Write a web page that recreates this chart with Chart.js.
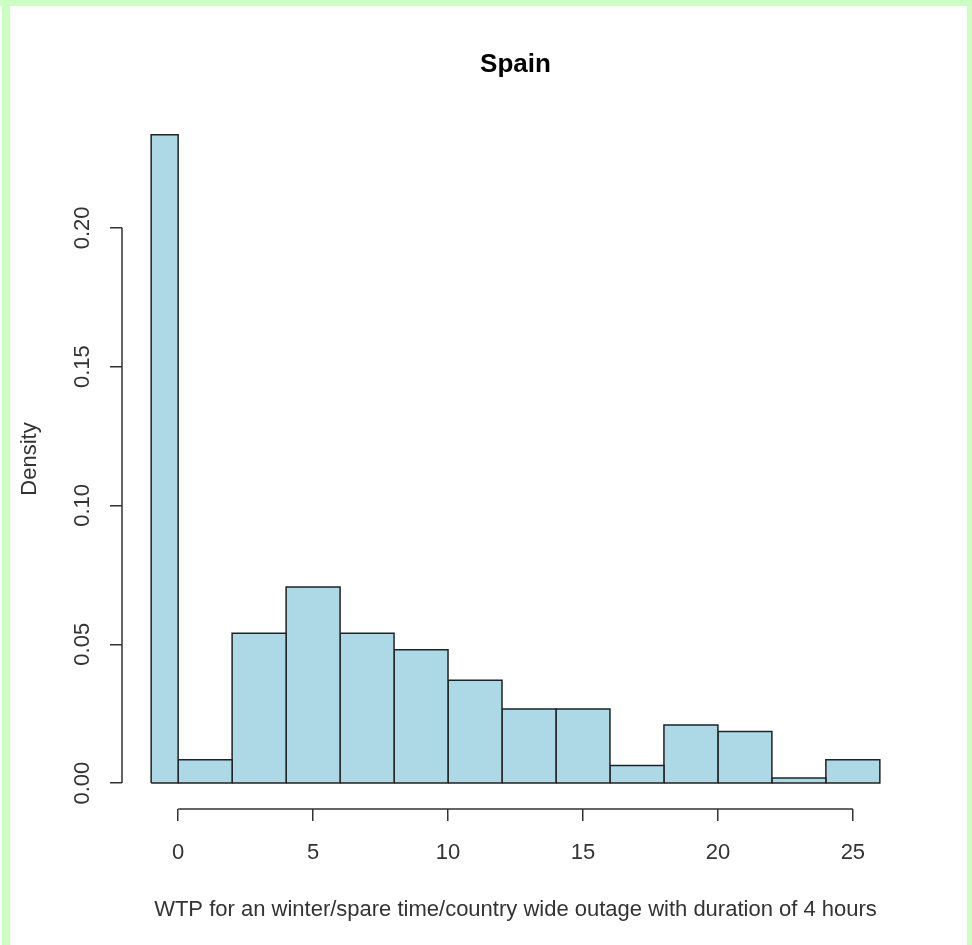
<!DOCTYPE html>
<html><head><meta charset="utf-8">
<script src="https://cdn.jsdelivr.net/npm/chart.js@4.4.1/dist/chart.umd.min.js"></script>
<style>
html,body{margin:0;padding:0;background:#fff;}
#wrap{position:relative;width:972px;height:945px;overflow:hidden;background:#fff;}
canvas{position:absolute;left:0;top:0;}
.g{position:absolute;background:#ccffc2;}
</style></head><body>
<div id="wrap">
<canvas id="c" width="972" height="945"></canvas>
<div class="g" style="left:2px;top:0;width:8px;height:945px"></div>
<div class="g" style="left:0;top:0;width:972px;height:6px"></div>
<div class="g" style="left:967px;top:0;width:5px;height:945px"></div>
</div>
<script>
// ---- data ----
const binEdges = [-1, 0, 2, 4, 6, 8, 10, 12, 14, 16, 18, 20, 22, 24, 26];
const density = [0.2335, 0.0084, 0.054, 0.0706, 0.054, 0.048, 0.037, 0.0267, 0.0267, 0.0063, 0.0209, 0.0186, 0.0018, 0.0084];
const xTickValues = [0, 5, 10, 15, 20, 25];
const xTickLabels = ['0', '5', '10', '15', '20', '25'];
const yTickValues = [0, 0.05, 0.10, 0.15, 0.20];
const yTickLabels = ['0.00', '0.05', '0.10', '0.15', '0.20'];
const xRange = [-2.08, 27.08];
const yRange = [-0.00934, 0.2428];
const chartTitle = 'Spain';
const xTitle = 'WTP for an winter/spare time/country wide outage with duration of 4 hours';
const yTitle = 'Density';

// ---- style ----
const FAMILY = '"Liberation Sans", Arial, Helvetica, sans-serif';
const barFill = '#add8e6';
const barEdge = '#222';
const axisColor = '#333';
const labelColor = '#333';

const datasets = density.map((d, i) => ({
  data: [
    {x: binEdges[i], y: 0},
    {x: binEdges[i], y: d},
    {x: binEdges[i + 1], y: d},
    {x: binEdges[i + 1], y: 0},
    {x: binEdges[i], y: 0}
  ],
  showLine: true,
  fill: 'shape',
  backgroundColor: barFill,
  borderColor: barEdge,
  borderWidth: 1.5,
  borderJoinStyle: 'miter',
  pointRadius: 0,
  pointHoverRadius: 0,
  tension: 0
}));

const rAxes = {
  id: 'rAxes',
  afterDraw(chart) {
    const {ctx, chartArea, scales: {x, y}} = chart;
    ctx.save();
    ctx.strokeStyle = axisColor;
    ctx.lineWidth = 1.5;
    ctx.beginPath();
    const by = chartArea.bottom;
    ctx.moveTo(x.getPixelForValue(xTickValues[0]), by);
    ctx.lineTo(x.getPixelForValue(xTickValues[xTickValues.length - 1]), by);
    const lx = chartArea.left;
    ctx.moveTo(lx, y.getPixelForValue(yTickValues[0]));
    ctx.lineTo(lx, y.getPixelForValue(yTickValues[yTickValues.length - 1]));
    ctx.stroke();
    ctx.fillStyle = labelColor;
    ctx.font = '22px ' + FAMILY;
    ctx.textAlign = 'center';
    ctx.textBaseline = 'middle';
    yTickValues.forEach((v, i) => {
      const py = y.getPixelForValue(v);
      ctx.save();
      ctx.translate(chartArea.left - 39, py);
      ctx.rotate(-Math.PI / 2);
      ctx.fillText(yTickLabels[i], 0, 0);
      ctx.restore();
    });
    ctx.restore();
  }
};

new Chart(document.getElementById('c'), {
  type: 'scatter',
  data: {datasets},
  plugins: [rAxes],
  options: {
    responsive: false,
    animation: false,
    devicePixelRatio: 1,
    events: [],
    layout: {padding: {left: 0, right: 63, top: 0, bottom: 0}},
    plugins: {
      legend: {display: false},
      tooltip: {enabled: false},
      filler: {propagate: false},
      title: {
        display: true, text: chartTitle, fullSize: false, color: '#000',
        font: {family: FAMILY, size: 26, weight: 'bold', lineHeight: 1.2},
        padding: {top: 49.4, bottom: 28.4}
      }
    },
    scales: {
      x: {
        type: 'linear', min: xRange[0], max: xRange[1],
        afterBuildTicks: s => { s.ticks = xTickValues.map(v => ({value: v})); },
        afterFit: s => { s.height = 136; },
        ticks: {
          color: labelColor, font: {family: FAMILY, size: 22}, padding: 19,
          autoSkip: false, maxRotation: 0, minRotation: 0,
          callback: (v) => { const k = xTickValues.indexOf(v); return k >= 0 ? xTickLabels[k] : ''; }
        },
        grid: {drawOnChartArea: false, drawTicks: true, tickLength: 12, color: axisColor, lineWidth: 1.5},
        border: {display: false},
        title: {display: true, text: xTitle, color: labelColor, font: {family: FAMILY, size: 22}, padding: {top: 0, bottom: 22}}
      },
      y: {
        type: 'linear', min: yRange[0], max: yRange[1],
        afterBuildTicks: s => { s.ticks = yTickValues.map(v => ({value: v})); },
        afterFit: s => { s.width = 122; },
        ticks: {display: false},
        grid: {drawOnChartArea: false, drawTicks: true, tickLength: 12, color: axisColor, lineWidth: 1.5},
        border: {display: false},
        title: {display: true, text: yTitle, color: labelColor, font: {family: FAMILY, size: 22}, padding: {top: 17, bottom: 0}}
      }
    }
  }
});
</script>
</body></html>
